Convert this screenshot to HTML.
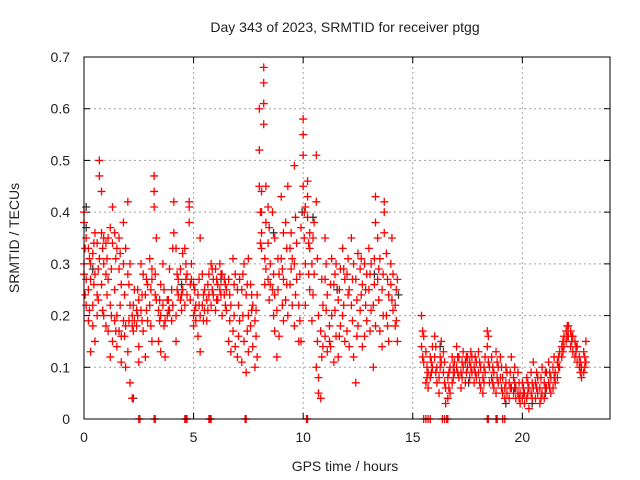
<!DOCTYPE html>
<html><head><meta charset="utf-8"><style>
body{margin:0;background:#fff}
svg{display:block;font-family:"Liberation Sans",sans-serif}
</style></head><body>
<svg id="chart" width="640" height="480">
<text x="345" y="32" font-size="14" text-anchor="middle" fill="#222">Day 343 of 2023, SRMTID for receiver ptgg</text>
<text x="345" y="471" font-size="14" text-anchor="middle" fill="#222">GPS time / hours</text>
<text transform="translate(19,238) rotate(-90)" font-size="14" text-anchor="middle" fill="#222">SRMTID / TECUs</text>
<g id="grid"></g>
<g id="axes"></g>
<g id="black"></g>
<g id="red"></g>
<rect x="84" y="57" width="526" height="362" fill="none" stroke="#000" stroke-width="1"/>
</svg>
<script>
const xTicks=[0,5,10,15,20];
const yTicks=[0,0.1,0.2,0.3,0.4,0.5,0.6,0.7];
const yTickLabels=["0","0.1","0.2","0.3","0.4","0.5","0.6","0.7"];
// groups: [hour, values...]
const redGroups=[
[0.0,.40,.38,.30,.28],[0.1,.35,.27,.22],[0.2,.25,.19,.33],[0.3,.27,.13,.30],[0.4,.22,.18,.32],[0.5,.36,.28,.15],[0.6,.24,.34,.20],[0.7,.31,.47,.50],[0.8,.44,.36,.26],[0.9,.30,.20,.35],[1.0,.34,.28,.18],
[1.1,.35,.17,.27],[1.2,.37,.12,.22],[1.3,.34,.41,.15],[1.4,.36,.25,.19],[1.5,.33,.20,.14],[1.6,.35,.29,.17],[1.7,.26,.16,.11],[1.8,.30,.38,.19],[1.9,.33,.18,.10],[2.0,.42,.28,.13],[2.1,.30,.22,.07],[2.2,.20,.18,.04],[2.3,.25,.19],[2.4,.18,.21],[2.5,.23,.14,.11],[2.6,.21,.30],[2.7,.28,.17],[2.8,.24,.12],[2.9,.26,.19],[3.0,.22,.31],
[3.1,.29,.27,.15],[3.2,.47,.44,.41],[3.3,.35,.23],[3.4,.21,.15],[3.5,.26,.20,.13],[3.6,.22,.30],[3.7,.19,.12],[3.8,.23,.20],[3.9,.21,.29],[4.0,.19,.25],[4.1,.42,.36],[4.2,.33,.20,.15],[4.3,.27,.24],[4.4,.23,.29],[4.5,.25,.32],[4.6,.33,.22],[4.7,.28,.24],[4.8,.42,.41,.38],[4.9,.30,.27],[5.0,.26,.20,.18],
[5.1,.22,.19],[5.2,.24,.16],[5.3,.35,.13,.20],[5.4,.28,.22],[5.5,.25,.21],[5.6,.23,.19],[5.7,.24,.28],[5.8,.30,.22],[5.9,.27,.24],[6.0,.29,.21],[6.1,.26,.23],[6.2,.30,.25],[6.3,.28,.20],[6.4,.27,.24],[6.5,.25,.21],[6.6,.15,.27],[6.7,.13,.22],[6.8,.31,.17],[6.9,.28,.14],[7.0,.25,.12],
[7.1,.27,.19],[7.2,.25,.11],[7.3,.30,.15],[7.4,.24,.09],[7.5,.31,.20,.13],[7.6,.26,.18],[7.7,.22,.14],[7.8,.19,.10],[7.9,.12,.24],[8.0,.45,.52,.60],[8.1,.44,.40,.36,.33],[8.2,.65,.68,.61,.57],[8.3,.45,.38,.29],[8.4,.41,.34,.27],[8.5,.30,.26],[8.6,.25,.40],[8.7,.24,.35,.17],[8.8,.21,.12],[8.9,.28,.16],[9.0,.31,.43],
[9.1,.27,.36,.19],[9.2,.38,.23],[9.3,.45,.20],[9.4,.26,.33],[9.5,.31,.22],[9.6,.49,.30,.18],[9.7,.27,.34],[9.8,.22,.15],[9.9,.37,.15],[10.0,.58,.55,.51,.45],[10.1,.41,.30,.22],[10.2,.46,.43,.39],[10.3,.36,.33,.25],[10.4,.30,.19],[10.5,.38,.28],[10.6,.51,.42,.10],[10.7,.20,.08,.05],[10.8,.17,.04],[10.9,.22,.14],[11.0,.35,.27,.16],
[11.1,.24,.13],[11.2,.15,.18],[11.3,.31,.20],[11.4,.26,.11],[11.5,.30,.16],[11.6,.23,.12],[11.7,.29,.18],[11.8,.33,.20],[11.9,.27,.15],[12.0,.28,.17],[12.1,.25,.14],[12.2,.35,.22],[12.3,.30,.12],[12.4,.27,.07],[12.5,.32,.18],[12.6,.29,.21],[12.7,.26,.14],[12.8,.30,.16],[12.9,.28,.19],[13.0,.33,.25],
[13.1,.30,.21],[13.2,.22,.10],[13.3,.43,.38,.18],[13.4,.35,.27],[13.5,.31,.17],[13.6,.25,.14],[13.7,.42,.40,.36],[13.8,.32,.20],[13.9,.24,.15],[14.0,.30,.26],[14.1,.28,.21],[14.2,.22,.18],[14.3,.27,.15],
[15.4,.20,.14],[15.5,.16,.11],[15.6,.07,.13],[15.7,.09,.06],[15.8,.12,.08],[15.9,.14,.10],[16.0,.16,.12],[16.1,.10,.07],[16.2,.08,.05],[16.3,.15,.11],[16.4,.13,.09],[16.5,.06,.03],[16.6,.08,.04],[16.7,.10,.05],[16.8,.12,.07],[16.9,.11,.09],[17.0,.14,.10],[17.1,.12,.08],[17.2,.09,.06],[17.3,.13,.10],[17.4,.11,.07],[17.5,.10,.12],[17.6,.08,.11],[17.7,.12,.09],[17.8,.10,.07],[17.9,.11,.08],
[18.0,.13,.09],[18.1,.10,.06],[18.2,.08,.05],[18.3,.12,.09],[18.4,.17,.14],[18.5,.10,.07],[18.6,.12,.08],[18.7,.09,.06],[18.8,.13,.05],[18.9,.10,.07],[19.0,.12,.08],[19.1,.08,.05],[19.2,.06,.04],[19.3,.09,.05],[19.4,.07,.04],[19.5,.12,.06],[19.6,.08,.05],[19.7,.06,.04],[19.8,.09,.05],[19.9,.05,.03],
[20.0,.07,.04],[20.1,.05,.03],[20.2,.08,.04],[20.3,.06,.02],[20.4,.09,.05],[20.5,.11,.06],[20.6,.07,.04],[20.7,.08,.05],[20.8,.06,.03],[20.9,.10,.05],[21.0,.07,.04],[21.1,.09,.06],[21.2,.11,.07],[21.3,.08,.05],[21.4,.10,.06],[21.5,.09,.07],[21.6,.11,.08],[21.7,.13,.10],[21.8,.14,.12],[21.9,.16,.14],
[22.0,.17,.15],[22.1,.18,.16],[22.2,.17,.14],[22.3,.16,.13],[22.4,.15,.12],[22.5,.14,.11],[22.6,.12,.10],[22.7,.10,.08],[22.8,.13,.09],[22.9,.15,.11]
];
const redGroupsExtra=[
[0.05,.33,.24],[0.25,.21,.31],[0.45,.26,.34],[0.65,.29,.23],[0.85,.33,.21],[1.05,.31,.24],[1.25,.29,.20],[1.45,.31,.17],[1.65,.22,.32],[1.85,.24,.16],[2.05,.26,.19],[2.25,.22,.17],[2.45,.20,.25],[2.65,.19,.24],[2.85,.27,.21],
[3.05,.25,.18],[3.25,.28,.24],[3.45,.23,.19],[3.65,.18,.25],[3.85,.21,.23],[4.05,.22,.33],[4.25,.25,.28],[4.45,.24,.21],[4.65,.27,.30],[4.85,.23,.26],[5.05,.21,.25],[5.25,.22,.27],[5.45,.24,.19],[5.65,.26,.21],[5.85,.25,.29],
[6.05,.27,.23],[6.25,.24,.28],[6.45,.26,.22],[6.65,.24,.19],[6.85,.20,.26],[7.05,.22,.16],[7.25,.20,.28],[7.45,.26,.17],[7.65,.21,.24],[7.85,.16,.21],[8.05,.40,.34],[8.25,.31,.26],[8.45,.23,.37],[8.65,.28,.20],[8.85,.25,.31],
[9.05,.22,.29],[9.25,.33,.26],[9.45,.29,.36],[9.65,.24,.39],[9.85,.28,.19],[10.05,.35,.40],[10.25,.28,.34],[10.45,.35,.24],[10.65,.31,.15],[10.85,.27,.12],[11.05,.21,.30],[11.25,.26,.14],[11.45,.21,.28],[11.65,.25,.16],[11.85,.22,.29],
[12.05,.24,.31],[12.25,.19,.27],[12.45,.23,.16],[12.65,.24,.31],[12.85,.22,.25],[13.05,.28,.17],[13.25,.26,.31],[13.45,.23,.29],[13.65,.20,.28],[13.85,.27,.18],[14.05,.23,.35],[14.25,.25,.19],
[15.45,.17,.12],[15.65,.10,.08],[15.85,.11,.09],[16.05,.14,.09],[16.25,.12,.10],[16.45,.07,.11],[16.65,.09,.06],[16.85,.10,.08],[17.05,.12,.09],[17.25,.11,.08],[17.45,.09,.12],[17.65,.10,.13],[17.85,.09,.12],
[18.05,.11,.07],[18.25,.10,.07],[18.45,.11,.16],[18.65,.10,.07],[18.85,.08,.11],[19.05,.10,.06],[19.25,.07,.10],[19.45,.09,.06],[19.65,.07,.10],[19.85,.07,.04],[20.05,.06,.05],[20.25,.05,.07],[20.45,.07,.04],[20.65,.06,.09],[20.85,.08,.04],
[21.05,.06,.09],[21.25,.09,.06],[21.45,.08,.12],[21.65,.10,.12],[21.85,.15,.13],[22.05,.16,.18],[22.25,.15,.16],[22.45,.13,.14],[22.65,.11,.09],[22.85,.12,.10]
];
const blackGroups=[[0.05,.41,.37],[0.35,.29],[2.2,.04],[4.4,.26],[6.2,.27],[8.6,.36],[9.9,.40],[10.4,.39],[11.5,.25],[13.2,.28],[14.3,.24],[16.2,.14],[17.5,.07],[19.2,.03],[19.6,.06],[20.4,.03],[21.0,.05]];
const zeroHits=[2.5,2.55,3.2,3.25,4.6,4.65,4.7,5.7,5.75,5.8,7.35,7.4,10.15,10.2,15.5,15.6,15.7,15.8,16.35,16.45,16.55,16.6,18.4,18.45,18.8,18.85,19.1,19.2];

const X0=84,X1=610,Y0=419,Y1=57;
const xs=t=>X0+(t/24)*(X1-X0);
const ys=v=>Y0-(v/0.7)*(Y0-Y1);
const NS="http://www.w3.org/2000/svg";
const grid=document.getElementById('grid'),axes=document.getElementById('axes');
function mk(tag,attrs,parent){const e=document.createElementNS(NS,tag);for(const k in attrs)e.setAttribute(k,attrs[k]);parent.appendChild(e);return e;}
xTicks.forEach(t=>{
  const x=xs(t);
  if(t>0){const g=mk('line',{x1:x,y1:Y0,x2:x,y2:Y1,stroke:'#a0a0a0','stroke-dasharray':'2,3'},grid);
  
  }
  const tk=mk('line',{x1:x,y1:Y0,x2:x,y2:Y0-6,stroke:'#000'},axes);
  
  
  const tk2=mk('line',{x1:x,y1:Y1,x2:x,y2:Y1+6,stroke:'#000'},axes);
  
  
  const l=mk('text',{x:x,y:Y0+23,'font-size':14,'text-anchor':'middle',fill:'#222'},axes);
  l.textContent=String(t);
  
  
});
yTicks.forEach((v,i)=>{
  const y=ys(v);
  if(v>0&&v<0.7){const g=mk('line',{x1:X0,y1:y,x2:X1,y2:y,stroke:'#a0a0a0','stroke-dasharray':'2,3'},grid);
  
  }
  const tk=mk('line',{x1:X0,y1:y,x2:X0+6,y2:y,stroke:'#000'},axes);
  
  
  const tk2=mk('line',{x1:X1,y1:y,x2:X1-6,y2:y,stroke:'#000'},axes);
  
  
  const l=mk('text',{x:X0-14,y:y+5,'font-size':14,'text-anchor':'end',fill:'#222'},axes);
  l.textContent=yTickLabels[i];
  
  
});
function plus(parent,t,v,col){
  const x=xs(t),y=ys(v);
  const p=mk('path',{d:`M${x-4},${y}H${x+4}M${x},${y-4}V${y+4}`,stroke:col,'stroke-width':1.3,fill:'none'},parent);
  
  
}
const bl=document.getElementById('black'),rd=document.getElementById('red');
blackGroups.forEach(g=>{for(let i=1;i<g.length;i++)plus(bl,g[0]+0.05,g[i],'#333');});
redGroups.forEach(g=>{for(let i=1;i<g.length;i++)plus(rd,g[0],g[i],'#f00');});
redGroupsExtra.forEach(g=>{for(let i=1;i<g.length;i++)plus(rd,g[0],g[i],'#f00');});
zeroHits.forEach(t=>plus(rd,t,0,'#f00'));
</script>
</body></html>
